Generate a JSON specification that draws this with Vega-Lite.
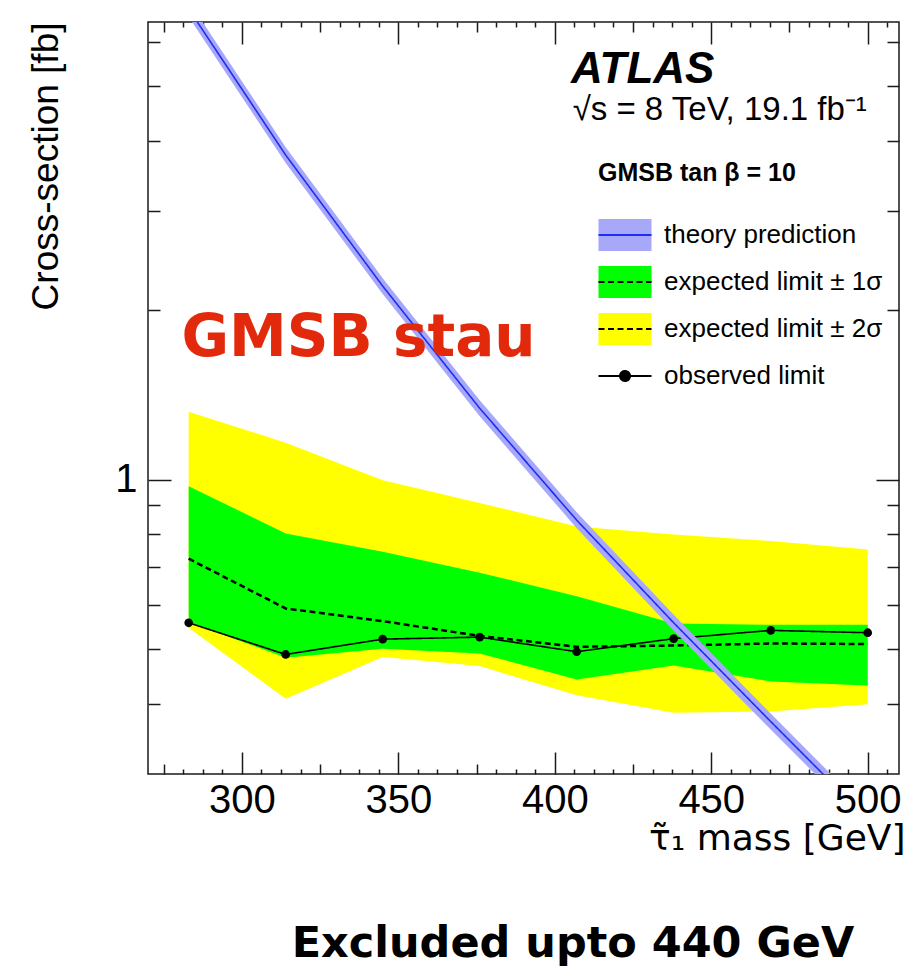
{
  "$schema": "https://vega.github.io/schema/vega-lite/v6.json",
  "width": 751,
  "height": 752,
  "autosize": {"type": "none"},
  "padding": {"left": 148, "top": 22, "right": 15, "bottom": 196},
  "background": "white",
  "datasets": {
    "limits": [
      {"mass": 283, "obs": 0.5568, "exp": 0.7237, "m1": 0.5582, "p1": 0.9738, "m2": 0.5457, "p2": 1.320, "th": 6.855, "thLo": 6.636, "thHi": 7.081},
      {"mass": 314, "obs": 0.4892, "exp": 0.5904, "m1": 0.4827, "p1": 0.8024, "m2": 0.4082, "p2": 1.163, "th": 3.772, "thLo": 3.652, "thHi": 3.896},
      {"mass": 345, "obs": 0.5208, "exp": 0.5607, "m1": 0.5005, "p1": 0.7446, "m2": 0.4839, "p2": 0.998, "th": 2.207, "thLo": 2.137, "thHi": 2.280},
      {"mass": 376, "obs": 0.5251, "exp": 0.5277, "m1": 0.4912, "p1": 0.6833, "m2": 0.4664, "p2": 0.9091, "th": 1.339, "thLo": 1.296, "thHi": 1.383},
      {"mass": 407, "obs": 0.4947, "exp": 0.5047, "m1": 0.4417, "p1": 0.6209, "m2": 0.4138, "p2": 0.8259, "th": 0.8472, "thLo": 0.8201, "thHi": 0.8752},
      {"mass": 438, "obs": 0.5219, "exp": 0.5074, "m1": 0.4677, "p1": 0.5553, "m2": 0.3855, "p2": 0.7994, "th": 0.5568, "thLo": 0.5390, "thHi": 0.5752},
      {"mass": 469, "obs": 0.5398, "exp": 0.5116, "m1": 0.4381, "p1": 0.5524, "m2": 0.3875, "p2": 0.7778, "th": 0.3718, "thLo": 0.3599, "thHi": 0.3841},
      {"mass": 500, "obs": 0.5347, "exp": 0.5105, "m1": 0.4310, "p1": 0.5524, "m2": 0.3992, "p2": 0.7516, "th": 0.2496, "thLo": 0.2416, "thHi": 0.2578}
    ]
  },
  "data": {"name": "limits"},
  "resolve": {"axis": {"x": "independent", "y": "independent"}},
  "layer": [
    {
      "mark": {"type": "area", "opacity": 1, "clip": true},
      "encoding": {
        "x": {
          "field": "mass", "type": "quantitative",
          "scale": {"domain": [270, 510], "nice": false, "zero": false},
          "axis": {
            "orient": "bottom", "values": [300, 350, 400, 450, 500], "tickSize": -22,
            "labelPadding": 28, "labelFlush": false, "format": "d", "labelFontSize": 40,
            "title": "τ̃₁ mass [GeV]", "titleFont": "DejaVu Sans", "titleFontSize": 36,
            "titleAnchor": "end", "titleAlign": "right",
            "titleX": 757, "titleY": 75, "titleBaseline": "alphabetic"
          }
        },
        "y": {
          "field": "m2", "type": "quantitative",
          "scale": {"type": "log", "domain": [0.3, 6.5], "nice": false},
          "axis": {
            "orient": "left", "values": [1], "tickSize": -23, "labelPadding": 34, "format": "~g", "labelFontSize": 40,
            "title": "Cross-section [fb]", "titleAngle": -90, "titleAlign": "right",
            "titleX": -91, "titleY": 0, "titleBaseline": "alphabetic"
          }
        },
        "y2": {"field": "p2"},
        "fill": {
          "datum": "expected limit ± 2σ", "type": "nominal",
          "scale": {
            "domain": ["theory prediction", "expected limit ± 1σ", "expected limit ± 2σ", "observed limit"],
            "range": ["#a8a8f8", "#00ff00", "#ffff00", "transparent"]
          },
          "legend": {
            "orient": "none", "legendX": 456, "legendY": 192, "title": null, "padding": 0,
            "symbolType": "M-1.325,-0.8H1.325V0.8H-1.325Z", "symbolSize": 1600,
            "symbolStrokeWidth": 2, "symbolStrokeColor": "transparent", "symbolOpacity": 1,
            "labelFont": "Liberation Sans", "labelFontSize": 26, "labelColor": "#000",
            "labelOffset": 18, "rowPadding": 6, "labelLimit": 400
          }
        }
      }
    },
    {
      "mark": {"type": "area", "opacity": 1, "clip": true},
      "encoding": {
        "x": {
          "field": "mass", "type": "quantitative",
          "axis": {"orient": "bottom", "values": [275, 325, 375, 425, 475], "tickSize": -10, "labels": false, "title": null}
        },
        "y": {
          "field": "m1", "type": "quantitative",
          "axis": {"orient": "left", "values": [0.4, 0.5, 0.6, 0.7, 0.8, 0.9, 2, 3, 4, 5, 6], "tickSize": -12, "labels": false, "title": null}
        },
        "y2": {"field": "p1"},
        "fill": {"datum": "expected limit ± 1σ", "type": "nominal"}
      }
    },
    {
      "mark": {"type": "line", "strokeWidth": 2.5, "clip": true},
      "encoding": {
        "x": {
          "field": "mass", "type": "quantitative",
          "axis": {
            "orient": "bottom", "tickSize": -5, "labels": false, "title": null,
            "values": [281.25, 287.5, 293.75, 306.25, 312.5, 318.75, 331.25, 337.5, 343.75, 356.25, 362.5, 368.75, 381.25, 387.5, 393.75, 406.25, 412.5, 418.75, 431.25, 437.5, 443.75, 456.25, 462.5, 468.75, 481.25, 487.5, 493.75, 506.25]
          }
        },
        "y": {
          "field": "exp", "type": "quantitative",
          "axis": {"orient": "right", "values": [1], "tickSize": -23, "labels": false, "title": null}
        },
        "stroke": {
          "datum": "exp1", "type": "nominal",
          "scale": {"domain": ["theory", "exp1", "exp2", "obs"], "range": ["#1e2ef5", "#000000", "#000000", "#000000"]},
          "legend": {
            "orient": "none", "legendX": 456, "legendY": 192, "title": null, "padding": 0,
            "symbolType": "M-1.325,-0.8M1.325,0.8M-1.325,0H1.325", "symbolSize": 1600, "symbolStrokeWidth": 2,
            "labelFontSize": 26, "labelExpr": "''", "labelOffset": 18, "rowPadding": 6,
            "encode": {
              "symbols": {
                "update": {
                  "shape": {"signal": "datum.value === 'obs' ? 'M-1.325,-0.8M1.325,0.8M-1.325,0H1.325M-0.25,0A0.25,0.25,0,1,1,0.25,0A0.25,0.25,0,1,1,-0.25,0Z' : 'M-1.325,-0.8M1.325,0.8M-1.325,0H1.325'"},
                  "fill": {"signal": "datum.value === 'obs' ? '#000000' : 'transparent'"}
                }
              }
            }
          }
        },
        "strokeDash": {
          "datum": "exp1", "type": "nominal",
          "scale": {"domain": ["theory", "exp1", "exp2", "obs"], "range": [[1, 0], [6, 3.5], [6, 3.5], [1, 0]]},
          "legend": {
            "orient": "none", "legendX": 456, "legendY": 192, "title": null, "padding": 0,
            "symbolType": "M-1.325,-0.8M1.325,0.8M-1.325,0H1.325", "symbolSize": 1600, "symbolStrokeWidth": 2,
            "labelFontSize": 26, "labelExpr": "''", "labelOffset": 18, "rowPadding": 6
          }
        }
      }
    },
    {
      "mark": {"type": "line", "strokeWidth": 1.6, "clip": true},
      "encoding": {
        "x": {
          "field": "mass", "type": "quantitative",
          "axis": {"orient": "top", "values": [300, 350, 400, 450, 500], "tickSize": -22, "labels": false, "title": null}
        },
        "y": {
          "field": "obs", "type": "quantitative",
          "axis": {"orient": "right", "values": [0.4, 0.5, 0.6, 0.7, 0.8, 0.9, 2, 3, 4, 5, 6], "tickSize": -12, "labels": false, "title": null}
        },
        "stroke": {"datum": "obs", "type": "nominal"},
        "strokeDash": {"datum": "obs", "type": "nominal"}
      }
    },
    {
      "mark": {"type": "point", "filled": true, "size": 75, "opacity": 1, "color": "#000000"},
      "encoding": {
        "x": {
          "field": "mass", "type": "quantitative",
          "axis": {"orient": "top", "values": [275, 325, 375, 425, 475], "tickSize": -10, "labels": false, "title": null}
        },
        "y": {"field": "obs", "type": "quantitative", "axis": null}
      }
    },
    {
      "mark": {"type": "area", "opacity": 1, "clip": true},
      "encoding": {
        "x": {
          "field": "mass", "type": "quantitative",
          "axis": {
            "orient": "top", "tickSize": -5, "labels": false, "title": null,
            "values": [281.25, 287.5, 293.75, 306.25, 312.5, 318.75, 331.25, 337.5, 343.75, 356.25, 362.5, 368.75, 381.25, 387.5, 393.75, 406.25, 412.5, 418.75, 431.25, 437.5, 443.75, 456.25, 462.5, 468.75, 481.25, 487.5, 493.75, 506.25]
          }
        },
        "y": {"field": "thLo", "type": "quantitative", "axis": null},
        "y2": {"field": "thHi"},
        "fill": {"datum": "theory prediction", "type": "nominal"}
      }
    },
    {
      "mark": {"type": "line", "strokeWidth": 1.6, "clip": true},
      "encoding": {
        "x": {"field": "mass", "type": "quantitative", "axis": null},
        "y": {"field": "th", "type": "quantitative", "axis": null},
        "stroke": {"datum": "theory", "type": "nominal"},
        "strokeDash": {"datum": "theory", "type": "nominal"}
      }
    },
    {
      "data": {"values": [{}]},
      "mark": {"type": "text", "text": "ATLAS", "font": "Liberation Sans", "fontSize": 44, "fontWeight": "bold", "fontStyle": "italic", "align": "left", "baseline": "alphabetic", "fill": "#000000"},
      "encoding": {
        "x": {"datum": 405.2, "type": "quantitative", "axis": null},
        "y": {"datum": 5.07, "type": "quantitative", "axis": null}
      }
    },
    {
      "data": {"values": [{}]},
      "mark": {"type": "text", "text": "√s = 8 TeV, 19.1 fb⁻¹", "font": "Liberation Sans", "fontSize": 33, "align": "left", "baseline": "alphabetic", "fill": "#000000"},
      "encoding": {
        "x": {"datum": 405.7, "type": "quantitative", "axis": null},
        "y": {"datum": 4.35, "type": "quantitative", "axis": null}
      }
    },
    {
      "data": {"values": [{}]},
      "mark": {"type": "text", "text": "GMSB tan  β = 10", "font": "Liberation Sans", "fontSize": 25, "fontWeight": "bold", "align": "left", "baseline": "alphabetic", "fill": "#000000"},
      "encoding": {
        "x": {"datum": 413.8, "type": "quantitative", "axis": null},
        "y": {"datum": 3.39, "type": "quantitative", "axis": null}
      }
    },
    {
      "data": {"values": [{}]},
      "mark": {"type": "text", "text": "GMSB stau", "font": "DejaVu Sans", "fontSize": 58, "fontWeight": "bold", "align": "left", "baseline": "alphabetic", "fill": "#e3290b"},
      "encoding": {
        "x": {"datum": 280.7, "type": "quantitative", "axis": null},
        "y": {"datum": 1.655, "type": "quantitative", "axis": null}
      }
    },
    {
      "data": {"values": [{}]},
      "mark": {"type": "text", "text": "Excluded upto 440 GeV", "font": "DejaVu Sans", "fontSize": 43, "fontWeight": "bold", "align": "center", "baseline": "alphabetic", "fill": "#000000"},
      "encoding": {
        "x": {"datum": 405.8, "type": "quantitative", "axis": null},
        "y": {"datum": 0.1417, "type": "quantitative", "axis": null}
      }
    }
  ],
  "config": {
    "font": "Liberation Sans",
    "view": {"stroke": "#1a1a1a", "strokeWidth": 1.5},
    "axis": {
      "domain": false,
      "grid": false,
      "tickColor": "#1a1a1a",
      "tickWidth": 1.5,
      "labelFont": "Liberation Sans",
      "labelFontSize": 37,
      "labelColor": "#000000",
      "labelOverlap": false,
      "titleFont": "Liberation Sans",
      "titleFontSize": 37,
      "titleFontWeight": "normal",
      "titleColor": "#000000",
      "zindex": 1
    }
  }
}
